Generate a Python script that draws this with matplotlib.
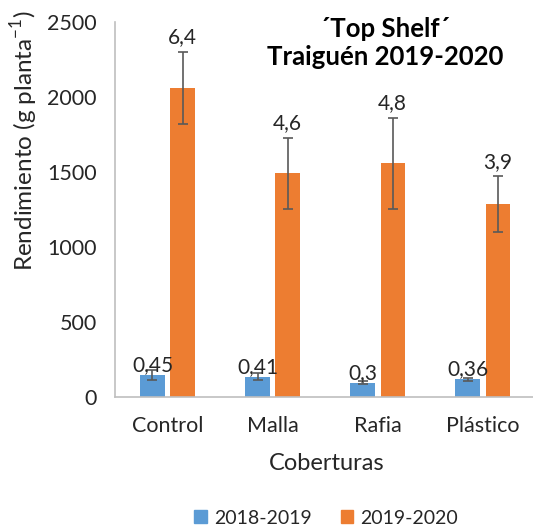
import numpy as np
import matplotlib
matplotlib.use('Agg')
from matplotlib import pyplot as plt
from matplotlib.patches import Patch

plt.rcParams['font.family'] = ['Lato', 'DejaVu Sans']
plt.rcParams['mathtext.fontset'] = 'custom'
plt.rcParams['mathtext.rm'] = 'Lato'

# data
categories = ['Control', 'Malla', 'Rafia', 'Plástico']
season_labels = ['2018-2019', '2019-2020']
yield_1819 = [145, 133, 93, 116]
err_1819 = [35, 23, 10, 12]
yield_1920 = [2060, 1490, 1555, 1285]
err_1920 = [240, 238, 305, 185]
labels_1819 = ['0,45', '0,41', '0,3', '0,36']
labels_1920 = ['6,4', '4,6', '4,8', '3,9']

colors = ['#5B9BD5', '#ED7D31']
err_color = '#595959'

fig = plt.figure(figsize = (5.33, 5.28), dpi = 100)
ax = fig.add_axes([115/533, 1 - 396.7/528, 418/533, 375/528])

x = np.arange(len(categories))
w = 0.23
off = 0.143
ax.bar(x - off, yield_1819, w, color = colors[0], yerr = err_1819,
       error_kw = dict(ecolor = err_color, capsize = 3.5, elinewidth = 1.2, capthick = 1.2))
ax.bar(x + off, yield_1920, w, color = colors[1], yerr = err_1920,
       error_kw = dict(ecolor = err_color, capsize = 3.5, elinewidth = 1.2, capthick = 1.2))

for i in range(len(categories)):
    ax.annotate(labels_1819[i], (x[i] - off, yield_1819[i]), xytext = (0, 0),
                textcoords = 'offset points', ha = 'center', va = 'bottom', fontsize = 15, color = '#262626')
    ax.annotate(labels_1920[i], (x[i] + off, yield_1920[i] + err_1920[i]), xytext = (0, 3),
                textcoords = 'offset points', ha = 'center', va = 'bottom', fontsize = 15, color = '#262626')

ax.set_xlim(-0.5, 3.48)
ax.set_ylim(0, 2500)
ax.set_yticks([0, 500, 1000, 1500, 2000, 2500])
ax.set_xticks(x)
ax.set_xticklabels(categories)
ax.tick_params(axis = 'both', length = 0, labelsize = 15.5, colors = '#262626')
ax.tick_params(axis = 'x', pad = 14)
ax.tick_params(axis = 'y', pad = 13)
for s in ['top', 'right']:
    ax.spines[s].set_visible(False)
ax.spines['left'].set_color('#BFBFBF')
ax.spines['bottom'].set_color('#BFBFBF')
ax.spines['left'].set_linewidth(1.2)
ax.spines['bottom'].set_linewidth(1.2)

fig.text(24/533, 1 - 141/528, 'Rendimiento (g planta$^{-1}$)', rotation = 90,
         ha = 'center', va = 'center', fontsize = 17.5, color = '#262626')
fig.text(327/533, 1 - 463/528, 'Coberturas', ha = 'center', va = 'center',
         fontsize = 17, color = '#262626')
fig.text(385/533, 1 - 43/528, '´Top Shelf´\nTraiguén 2019-2020', ha = 'center', va = 'center',
         fontsize = 18.5, fontweight = 'bold', linespacing = 1.2, color = 'black')

handles = [Patch(color = colors[0]), Patch(color = colors[1])]
fig.legend(handles, season_labels, loc = 'center', bbox_to_anchor = (326/533, 1 - 518/528),
           ncol = 2, frameon = False, fontsize = 14, handlelength = 0.65, handleheight = 0.65,
           handletextpad = 0.35, columnspacing = 1.5, labelcolor = '#262626')

fig.savefig('out.png', dpi = 100)
